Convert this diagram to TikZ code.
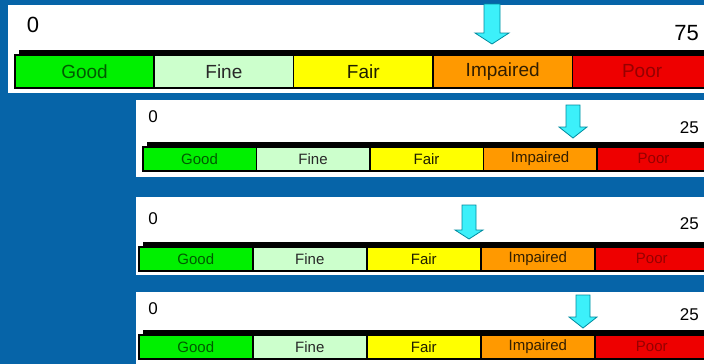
\documentclass[tikz,border=0pt]{standalone}
\usepackage{fontspec}
\setmainfont{Liberation Sans}
\definecolor{bgblue}{RGB}{6,100,168}
\definecolor{goodc}{RGB}{0,240,0}
\definecolor{goodt}{RGB}{0,90,0}
\definecolor{finec}{RGB}{204,255,204}
\definecolor{finet}{RGB}{40,40,40}
\definecolor{fairc}{RGB}{255,255,0}
\definecolor{fairt}{RGB}{30,30,0}
\definecolor{impc}{RGB}{255,153,0}
\definecolor{impt}{RGB}{50,30,0}
\definecolor{poorc}{RGB}{238,0,0}
\definecolor{poort}{RGB}{150,0,0}
\definecolor{arrc}{RGB}{60,240,250}
\definecolor{arrd}{RGB}{0,140,160}
\tikzset{
  cell/.style={draw=black, line width=1.6pt, inner sep=0pt, anchor=north west},
  panel/.style={fill=white},
  pointer/.style={fill=arrc, draw=arrd, line width=0.8pt, line join=miter},
  numtxt/.style={inner sep=0pt, text=black}
}
\begin{document}
\begin{tikzpicture}[x=1pt,y=-1pt]
\useasboundingbox (0,0) rectangle (704,364);
\fill[bgblue] (0,0) rectangle (704,364);
\begin{scope}
\clip (0,0) rectangle (704,364);
\foreach \n/\px/\py/\pyb/\bx/\bt/\bh/\w/\fs in {
  1/8/5/93/14/54/33/139.4/19,
  2/136/100/177/142/146/24/113.5/15,
  3/136/197/275/138/246/24/114/15,
  4/136/292/370/138/334/24/114/15}{
  \fill[panel] (\px,\py) rectangle (712,\pyb);
  \fill[black] ({\bx+5},{\bt-4}) rectangle (712,{\bt+\bh});
  \foreach \lab/\fc/\tc [count=\k] in {Good/goodc/goodt, Fine/finec/finet, Fair/fairc/fairt, Impaired/impc/impt, Poor/poorc/poort}{
    \node[cell, fill=\fc, text=\tc, minimum width=\w pt, minimum height=\bh pt,
      font=\fontsize{\fs pt}{\fs pt}\selectfont] (c\n-\k) at ({\bx+(\k-1)*\w},\bt) {\lab};
  }
}
\foreach \n/\cx/\tp/\hs/\tip/\sw/\hw in {
  1/492/4/33/44/8/17,
  2/573/105/127/138/7/14,
  3/469/205/230/239/7/14,
  4/583/295/317/328/7/14}{
  \draw[pointer] ({\cx-\sw},\tp) -- ({\cx+\sw},\tp) -- ({\cx+\sw},\hs) -- ({\cx+\hw},\hs)
    -- (\cx,\tip) -- ({\cx-\hw},\hs) -- ({\cx-\sw},\hs) -- cycle;
}
\end{scope}
\node[numtxt, font=\fontsize{22pt}{22pt}\selectfont] (z1) at (33,25) {0};
\node[numtxt, font=\fontsize{22pt}{22pt}\selectfont, anchor=east] (m1) at (699,33) {75};
\foreach \n/\zy/\my in {2/117/128, 3/219/224, 4/309/315}{
  \node[numtxt, font=\fontsize{17pt}{17pt}\selectfont] (z\n) at (153,\zy) {0};
  \node[numtxt, font=\fontsize{17pt}{17pt}\selectfont, anchor=east] (m\n) at (699,\my) {25};
}
\end{tikzpicture}
\end{document}
